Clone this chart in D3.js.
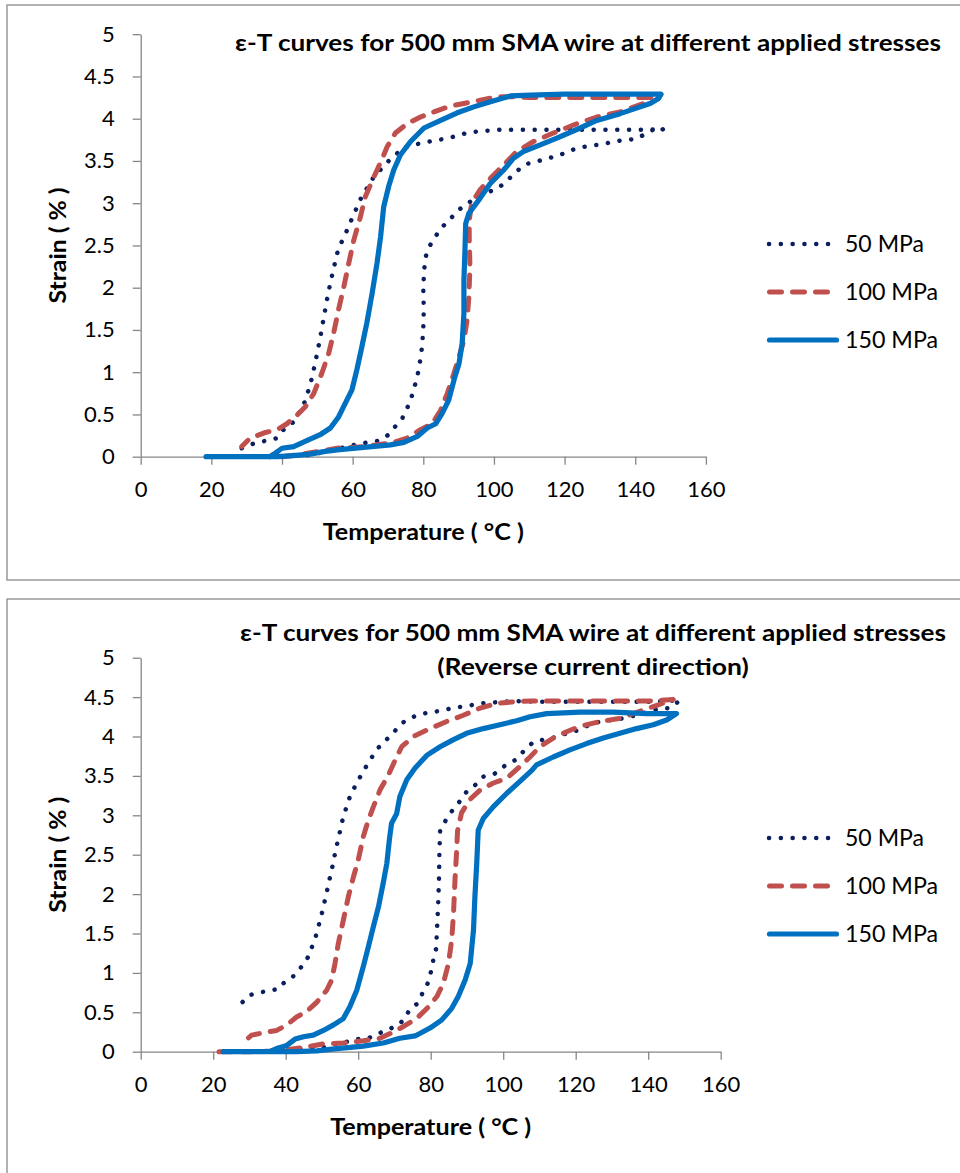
<!DOCTYPE html>
<html>
<head>
<meta charset="utf-8">
<script src="https://cdn.jsdelivr.net/npm/d3@7"></script>
<style>
  html, body { margin: 0; padding: 0; background: #fff; }
  svg { display: block; }
  text { font-family: Lato, "Open Sans", "Noto Sans", sans-serif; fill: #000; }
</style>
</head>
<body>
<svg id="chart" width="960" height="1173"></svg>
<script>
// ---------------- DATA ----------------
const seriesNames = ["50 MPa", "100 MPa", "150 MPa"];
const xTicks = [0, 20, 40, 60, 80, 100, 120, 140, 160];
const yTicks = [0, 0.5, 1, 1.5, 2, 2.5, 3, 3.5, 4, 4.5, 5];
const titleTop = ["ε-T curves for 500 mm SMA wire at different applied stresses"];
const titleBottom = ["ε-T curves for 500 mm SMA wire at different applied stresses", "(Reverse current direction)"];
const xLabel = "Temperature ( °C )";
const yLabel = "Strain ( % )";

// [temperature (°C), strain (%)]
const top50 = [[44,0.0],[46.1,0.01],[48.9,0.03],[52.3,0.06],[55.6,0.09],[58.4,0.12],[61.5,0.15],[64.4,0.17],[67.4,0.19],[70.2,0.26],[72.3,0.37],[74,0.45],[75.4,0.57],[76.7,0.71],[77.6,0.84],[78.4,0.97],[79,1.11],[79.5,1.25],[79.8,1.39],[80,1.53],[80.1,1.68],[80.1,1.81],[80,1.95],[80.1,2.09],[80.3,2.23],[80.7,2.37],[81.9,2.5],[83.5,2.61],[85.4,2.72],[87.6,2.81],[89.6,2.91],[92.1,2.98],[94.6,3.06],[97.5,3.12],[100.3,3.16],[102.9,3.23],[105.7,3.35],[108.8,3.46],[111.9,3.49],[115.1,3.53],[118.2,3.56],[121.3,3.62],[124.4,3.66],[127.6,3.68],[130.8,3.7],[134.1,3.73],[137.3,3.75],[140.4,3.76],[143.2,3.83],[145.1,3.87],[146.5,3.84],[148,3.88],
  [144,3.87],[135,3.87],[125,3.87],[115,3.87],[108.5,3.87],[105.5,3.87],[101.9,3.87],[98.6,3.86],[95.4,3.85],[92.2,3.83],[88.9,3.79],[85.8,3.76],[82.7,3.74],[79.7,3.71],[76.8,3.69],[74,3.65],[72.6,3.59],[70.4,3.51],[68.5,3.42],[66.2,3.33],[64.6,3.21],[62.8,3.1],[61.4,2.97],[58.9,2.73],[57.5,2.59],[56,2.47],[54.4,2.19],[53,1.92],[51.8,1.64],[50.7,1.38],[49.4,1.11],[48,0.85],[46.1,0.61],[43.3,0.41],[41.4,0.36],[40,0.3],[38.6,0.22],[35.7,0.19],[32.9,0.17],[28.6,0.1]];

const top100 = [[40,0],[44.2,0.02],[49.9,0.06],[55.6,0.1],[63.1,0.12],[70.7,0.16],[75.4,0.22],[79.2,0.32],[82.5,0.39],[84.9,0.55],[86.8,0.75],[88.7,0.99],[90.1,1.18],[91.5,1.38],[92.4,1.62],[92.9,1.89],[93.2,2.25],[93,2.6],[93,2.8],[93.7,3.0],[96.1,3.16],[98.9,3.29],[102.7,3.45],[106.4,3.61],[111.2,3.73],[116.8,3.83],[123.4,3.94],[129.1,4.02],[135.7,4.08],[142.3,4.18],[144.5,4.25],
  [140,4.25],[130,4.25],[120,4.25],[110,4.25],[105.7,4.26],[100.9,4.26],[96.2,4.22],[91.5,4.18],[87.7,4.15],[83,4.08],[79.2,4.02],[75.4,3.94],[72.1,3.83],[69.8,3.67],[68.2,3.51],[66,3.31],[63.6,3.08],[62.2,2.84],[60.3,2.56],[58.9,2.29],[57.5,2.01],[56,1.74],[54.6,1.46],[53.2,1.22],[51.3,0.99],[49,0.75],[46.6,0.59],[44.2,0.49],[41.4,0.39],[38.6,0.32],[34.8,0.28],[31,0.22],[28.6,0.12]];

const top150 = [[18.5,0],[25,0],[30,0],[36.5,0],[38.6,0],[42.3,0.01],[48,0.03],[51.8,0.06],[55.6,0.08],[63.1,0.11],[70.7,0.14],[74.5,0.17],[78.3,0.24],[81.1,0.34],[83.5,0.39],[85.3,0.51],[87.2,0.67],[88.7,0.91],[90.1,1.1],[91,1.34],[91.5,1.7],[91.5,2.09],[91.8,2.45],[92,2.76],[92.9,2.88],[96.1,3.06],[98.9,3.23],[102.7,3.39],[105.5,3.53],[108.3,3.61],[113.1,3.69],[117.8,3.77],[124.4,3.89],[129.1,3.98],[135.7,4.06],[141.4,4.14],[144.2,4.18],[146.6,4.24],[147.3,4.29],
  [140,4.29],[130,4.29],[120,4.29],[110.4,4.28],[104.7,4.27],[99,4.2],[94.3,4.14],[89.6,4.07],[84.9,3.98],[80.2,3.89],[76.4,3.73],[73.5,3.57],[71.6,3.39],[70.2,3.2],[68.8,2.96],[67.9,2.6],[66.9,2.29],[65.5,1.93],[64,1.58],[62.6,1.3],[61.2,1.03],[59.8,0.79],[57.9,0.63],[56,0.47],[53.7,0.34],[50.8,0.26],[47,0.19],[43.3,0.12],[40,0.1],[38,0.04],[36.5,0]];

const bot50 = [[41.2,0.02],[44.4,0.04],[47.6,0.04],[50.9,0.06],[54.1,0.1],[57.3,0.13],[60,0.16],[62.8,0.17],[65.6,0.23],[68.3,0.28],[71.1,0.34],[72.9,0.42],[74.1,0.53],[76.3,0.61],[77.7,0.74],[79.2,0.87],[80.1,1.02],[80.7,1.16],[81.5,1.31],[81.8,1.61],[82.1,1.92],[82.3,2.22],[82.4,2.52],[82.6,2.81],[84.2,2.94],[85.8,3.05],[87.9,3.17],[89.9,3.3],[92.2,3.38],[94.5,3.49],[97.7,3.53],[100.5,3.63],[103.3,3.7],[106,3.83],[108.3,3.93],[111.1,3.96],[114.3,3.99],[117.5,4.04],[120.7,4.08],[123.9,4.15],[126.7,4.19],[133.1,4.23],[137.5,4.28],[141,4.33],[144,4.36],[146,4.36],[148.8,4.46],
  [145,4.45],[140,4.44],[130,4.44],[120,4.44],[110,4.44],[103.3,4.45],[100,4.44],[96.8,4.43],[93.6,4.42],[90.4,4.39],[87.2,4.37],[84,4.34],[80.7,4.31],[77.8,4.29],[75.2,4.25],[72.7,4.19],[70.6,4.1],[69.7,4.04],[67.3,3.94],[65.2,3.84],[63.4,3.71],[61.8,3.59],[60.2,3.46],[58.7,3.33],[57.3,3.19],[56.4,3.05],[55.5,2.91],[54.8,2.76],[54.1,2.62],[53.4,2.47],[52.8,2.33],[52.1,2.19],[51.4,2.04],[50.7,1.9],[50,1.76],[49.2,1.62],[48.4,1.48],[47.4,1.35],[46.3,1.21],[44.7,1.1],[42.9,0.99],[40.9,0.91],[39.4,0.87],[38.2,0.8],[35.2,0.77],[32.5,0.75],[30.2,0.72],[28.1,0.63]];

const bot100 = [[21.6,0],[30,0],[37.5,0.01],[41.2,0.03],[45.8,0.06],[50.4,0.1],[55.9,0.11],[61.4,0.14],[66,0.17],[69.7,0.25],[72.5,0.32],[76.1,0.42],[79.4,0.57],[81.7,0.7],[83.5,0.87],[84.9,1.12],[85.8,1.42],[86.3,1.76],[86.7,2.18],[87.1,2.5],[87.4,2.8],[88.5,3.03],[90.8,3.2],[93.6,3.32],[97.3,3.41],[101,3.47],[104.6,3.62],[107.4,3.74],[110.1,3.87],[113.8,3.98],[117.5,4.06],[121.2,4.13],[126.7,4.19],[132.2,4.23],[137.7,4.32],[141.4,4.38],[145.1,4.44],[146.9,4.47],
  [140,4.45],[130,4.45],[120,4.45],[110,4.45],[107.4,4.45],[102.8,4.44],[98.2,4.42],[93.6,4.36],[89,4.27],[84.4,4.19],[79.8,4.1],[75.2,4.0],[72,3.87],[70.2,3.7],[68.3,3.51],[66,3.32],[64.2,3.11],[62.8,2.94],[61.4,2.73],[60,2.43],[58.7,2.22],[57.3,1.97],[55.9,1.67],[54.5,1.37],[53.6,1.12],[52.7,0.91],[51.3,0.78],[48.6,0.63],[45.8,0.51],[43,0.44],[40.3,0.34],[37.5,0.27],[33.8,0.24],[30.6,0.21],[28.8,0.14]];

const bot150 = [[22.8,0],[30,0],[36.6,0],[43,0],[48.6,0.01],[54.1,0.04],[61.4,0.07],[66.9,0.11],[71.5,0.17],[75.7,0.2],[79.8,0.3],[83,0.4],[85.8,0.55],[87.6,0.7],[89.5,0.91],[90.9,1.12],[91.8,1.54],[92.2,1.97],[92.7,2.39],[93.1,2.81],[94.5,2.96],[97.3,3.11],[101,3.28],[104.6,3.43],[107.9,3.57],[109.2,3.64],[113.8,3.74],[118.4,3.83],[123,3.91],[127.6,3.98],[132.2,4.04],[136.8,4.1],[141.4,4.15],[145.1,4.21],[147.8,4.29],
  [139.6,4.29],[130.4,4.31],[121.2,4.31],[112,4.29],[107.4,4.25],[103.7,4.2],[99.1,4.15],[94.5,4.1],[89.9,4.04],[86.3,3.96],[82.6,3.87],[78.9,3.76],[75.7,3.6],[73.4,3.45],[71.5,3.24],[70.6,3.02],[69.2,2.9],[68.6,2.69],[67.9,2.39],[66.9,2.14],[65.6,1.84],[64.2,1.59],[62.8,1.33],[61.4,1.08],[59.6,0.78],[57.7,0.57],[55.9,0.42],[53.2,0.34],[50.4,0.27],[47.6,0.21],[44.9,0.19],[42.6,0.16],[40.3,0.08],[37.5,0.04],[36,0.01]];

// ---------------- STYLES ----------------
const styles = [
  { color: "#0B1F5E", width: 4.5, dash: "0.1,11.7", reverse: true },
  { color: "#C0504D", width: 5, dash: "12,11", reverse: false },
  { color: "#0070C0", width: 5.2, dash: null, reverse: false }
];

const svg = d3.select("#chart");

function fitText(sel, target) {
  sel.attr("textLength", target).attr("lengthAdjust", "spacingAndGlyphs");
}

function drawChart(cfg) {
  const g = svg.append("g");
  g.append("rect")
    .attr("x", cfg.frame[0]).attr("y", cfg.frame[1])
    .attr("width", cfg.frame[2]).attr("height", cfg.frame[3])
    .attr("fill", "none").attr("stroke", "#8a8a8a").attr("stroke-width", 1.3);

  const x = d3.scaleLinear().domain([0, 160]).range(cfg.xRange);
  const y = d3.scaleLinear().domain([0, 5]).range(cfg.yRange);

  const xAxis = g.append("g")
    .attr("transform", `translate(0,${cfg.yRange[0]})`)
    .call(d3.axisBottom(x).tickValues(xTicks).tickSize(8).tickSizeOuter(0).tickPadding(17).tickFormat(d3.format("d")));
  const yAxis = g.append("g")
    .attr("transform", `translate(${cfg.xRange[0]},0)`)
    .call(d3.axisLeft(y).tickValues(yTicks).tickSize(8).tickSizeOuter(0).tickPadding(18).tickFormat(d => String(d)));
  [xAxis, yAxis].forEach(a => {
    a.select(".domain").attr("stroke", "#868686").attr("stroke-width", 1.3);
    a.selectAll(".tick line").attr("stroke", "#868686").attr("stroke-width", 1.3);
    a.selectAll(".tick text").attr("font-size", 22).attr("fill", "#000")
      .style("font-family", "Lato, 'Open Sans', sans-serif");
  });

  const line = d3.line().x(d => x(d[0])).y(d => y(d[1])).curve(d3.curveLinear);
  cfg.series.forEach((data, i) => {
    const st = styles[i];
    const pts = st.reverse ? data.slice().reverse() : data;
    g.append("path").datum(pts)
      .attr("d", line)
      .attr("fill", "none")
      .attr("stroke", st.color)
      .attr("stroke-width", st.width)
      .attr("stroke-linecap", "round")
      .attr("stroke-linejoin", "round")
      .attr("stroke-dasharray", st.dash);
  });

  cfg.title.forEach((t, i) => {
    const tx = g.append("text")
      .attr("x", cfg.titleX).attr("y", cfg.titleY[i])
      .attr("text-anchor", "middle")
      .attr("font-size", 22).attr("font-weight", "bold")
      .text(t);
    fitText(tx, cfg.titleW[i]);
  });

  const xl = g.append("text")
    .attr("x", (cfg.xRange[0] + cfg.xRange[1]) / 2)
    .attr("y", cfg.yRange[0] + 83)
    .attr("text-anchor", "middle")
    .attr("font-size", 22).attr("font-weight", "bold")
    .text(xLabel);
  fitText(xl, 201);
  const yc = (cfg.yRange[0] + cfg.yRange[1]) / 2;
  const yl = g.append("text")
    .attr("transform", `translate(66,${yc}) rotate(-90)`)
    .attr("text-anchor", "middle")
    .attr("font-size", 22).attr("font-weight", "bold")
    .text(yLabel);
  fitText(yl, 116);

  const legW = [[769, 839], [769.5, 830], [769.5, 836.5]];
  const legTW = [79, 93, 93];
  seriesNames.forEach((name, i) => {
    const st = styles[i];
    const ly = cfg.legendY[i];
    g.append("line")
      .attr("x1", legW[i][0]).attr("x2", legW[i][1])
      .attr("y1", ly).attr("y2", ly)
      .attr("stroke", st.color).attr("stroke-width", st.width)
      .attr("stroke-linecap", "round")
      .attr("stroke-dasharray", st.dash);
    const lt = g.append("text")
      .attr("x", 845).attr("y", ly).attr("dy", "0.36em")
      .attr("font-size", 23)
      .text(name);
    fitText(lt, legTW[i]);
  });
}

drawChart({
  frame: [7, 5, 1000, 575],
  xRange: [140.7, 705.9],
  yRange: [456.7, 34.2],
  series: [top50, top100, top150],
  title: titleTop,
  titleX: 588, titleY: [51], titleW: [706],
  legendY: [244, 292, 340]
});

drawChart({
  frame: [7, 599, 1000, 700],
  xRange: [140.7, 720.7],
  yRange: [1051.7, 657.7],
  series: [bot50, bot100, bot150],
  title: titleBottom,
  titleX: 593, titleY: [641, 675], titleW: [706, 311.5],
  legendY: [838, 886, 934]
});
</script>
</body>
</html>
